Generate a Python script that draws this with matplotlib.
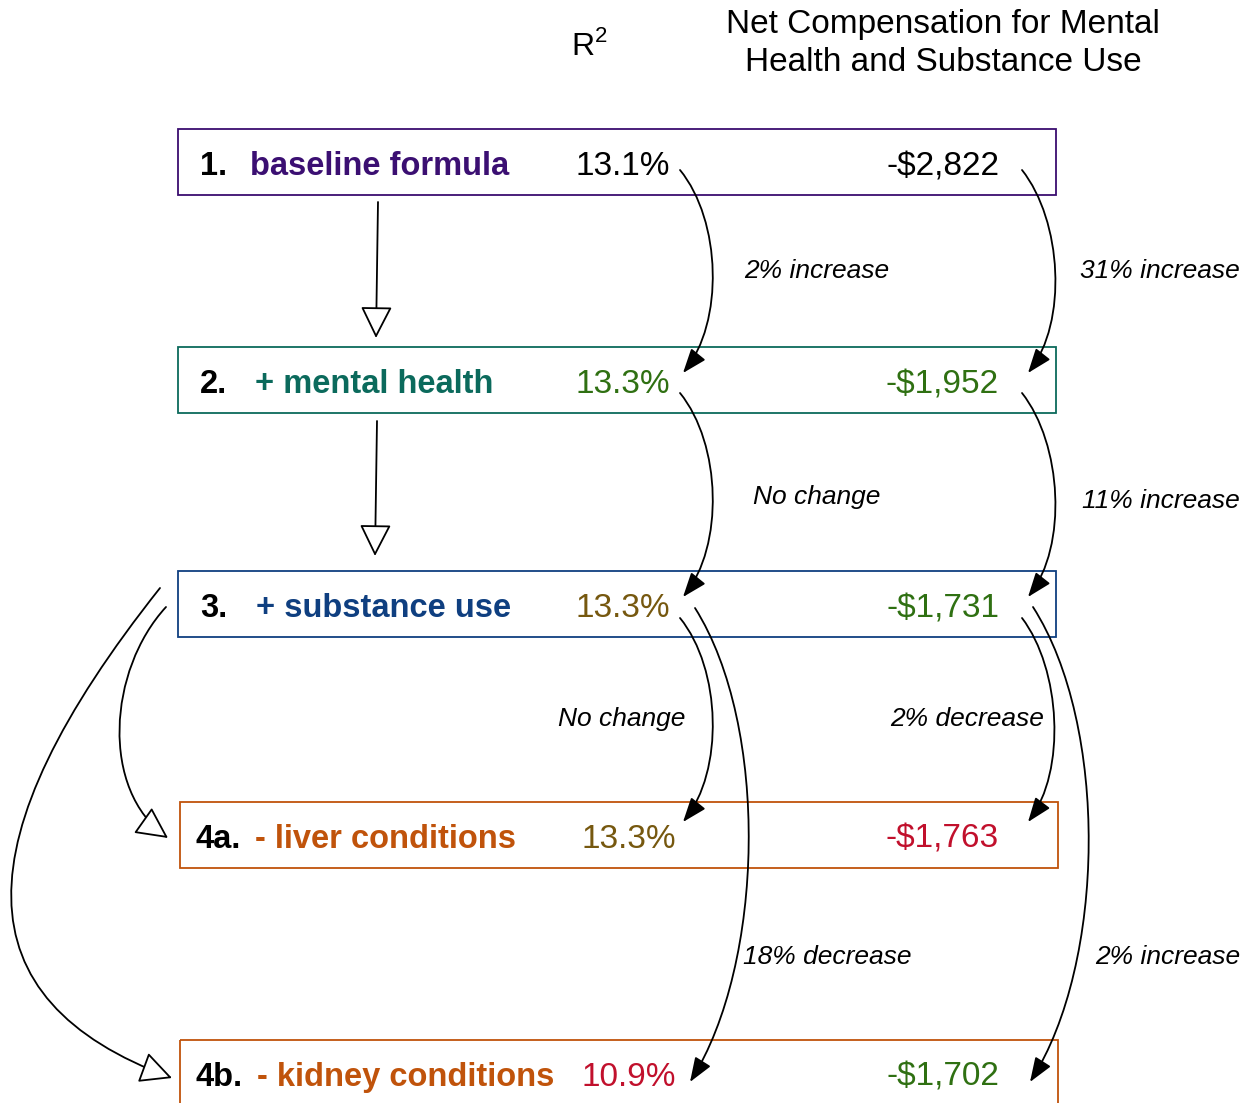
import matplotlib.pyplot as plt
from matplotlib.patches import Rectangle, FancyArrowPatch
from matplotlib.path import Path

# data
step_nums = ['1.', '2.', '3.', '4a.', '4b.']
step_labels = ['baseline formula', '+ mental health', '+ substance use',
               '- liver conditions', '- kidney conditions']
r2_values = ['13.1%', '13.3%', '13.3%', '13.3%', '10.9%']
net_values = ['-$2,822', '-$1,952', '-$1,731', '-$1,763', '-$1,702']
r2_changes = ['2% increase', 'No change', 'No change', '18% decrease']
net_changes = ['31% increase', '11% increase', '2% decrease', '2% increase']

box_colors = ['#3a0d6f', '#0c6a5c', '#0f3f80', '#c0530b', '#c0530b']
label_colors = ['#3b0f72', '#0b6a5c', '#0f3f80', '#c0530b', '#c0530b']
r2_colors = ['black', '#2f7012', '#76580f', '#76580f', '#c1102c']
net_colors = ['black', '#2f7012', '#2f7012', '#c1102c', '#2f7012']

FONT = 'Liberation Sans'

fig = plt.figure(figsize=(12.57, 11.03), dpi=100)
ax = fig.add_axes([0, 0, 1, 1])
ax.set_xlim(0, 1257)
ax.set_ylim(1103, 0)
ax.axis('off')

# layout in pixels
ycent = [162, 380, 604, 835, 1073]
xleft = [178, 178, 178, 180, 180]
box_w, box_h = 878, 66
num_x = [200, 200, 200, 196, 196]
lab_x = [250, 255, 256, 255, 257]
r2_x = [670, 670, 670, 676, 676]
net_x = 999

for i in range(5):
    ax.add_patch(Rectangle((xleft[i], ycent[i] - box_h / 2), box_w, box_h,
                           fill=False, ec=box_colors[i], lw=1.3))
    yb = ycent[i] + 13
    ax.text(num_x[i], yb, step_nums[i], fontsize=23.5, fontweight='bold',
            family=FONT, va='baseline', ha='left', color='black')
    ax.text(lab_x[i], yb, step_labels[i], fontsize=23.5, fontweight='bold',
            family=FONT, va='baseline', ha='left', color=label_colors[i])
    ax.text(r2_x[i], yb, r2_values[i], fontsize=24, family=FONT,
            va='baseline', ha='right', color=r2_colors[i])
    ax.text(net_x, yb, net_values[i], fontsize=24, family=FONT,
            va='baseline', ha='right', color=net_colors[i])

# headers
ax.text(571, 55, 'R', fontsize=23, family=FONT, va='baseline', ha='left')
ax.text(595, 42, '2', fontsize=16, family=FONT, va='baseline', ha='left')
ax.text(943, 33, 'Net Compensation for Mental', fontsize=24, family=FONT,
        va='baseline', ha='center')
ax.text(943, 71, 'Health and Substance Use', fontsize=24, family=FONT,
        va='baseline', ha='center')


def cubic_arrow(p0, p1, p2, p3, hollow=False):
    path = Path([p0, p1, p2, p3],
                [Path.MOVETO, Path.CURVE4, Path.CURVE4, Path.CURVE4])
    if hollow:
        style = '-|>,head_length=1.0,head_width=0.5'
        fc = 'white'
    else:
        style = '-|>,head_length=0.75,head_width=0.28'
        fc = 'black'
    ax.add_patch(FancyArrowPatch(path=path, arrowstyle=style, mutation_scale=20,
                                 fc=fc, ec='black', lw=1.3,
                                 shrinkA=0, shrinkB=0))


def bulge_arrow(x0, y0, x1, y1, off):
    k = off / 0.75
    L = y1 - y0
    cubic_arrow((x0, y0), (x0 + k, y0 + 0.25 * L),
                (x1 + k, y1 - 0.25 * L), (x1, y1))


# step arrows (hollow heads)
ax.add_patch(FancyArrowPatch((378, 202), (376, 338),
                             arrowstyle='-|>,head_length=1.0,head_width=0.5',
                             mutation_scale=20, fc='white', ec='black',
                             lw=1.3, shrinkA=0, shrinkB=0))
ax.add_patch(FancyArrowPatch((377, 421), (375, 556),
                             arrowstyle='-|>,head_length=1.0,head_width=0.5',
                             mutation_scale=20, fc='white', ec='black',
                             lw=1.3, shrinkA=0, shrinkB=0))
cubic_arrow((166, 607), (108, 670), (100, 790), (168, 838), hollow=True)
cubic_arrow((160, 588), (-40, 840), (-40, 1000), (172, 1078), hollow=True)

# change arrows
bulge_arrow(680, 170, 683, 373, 31)
bulge_arrow(680, 393, 683, 597, 31)
bulge_arrow(680, 618, 683, 822, 31)
bulge_arrow(695, 608, 690, 1082, 56)
bulge_arrow(1022, 170, 1028, 373, 30)
bulge_arrow(1022, 393, 1028, 597, 30)
bulge_arrow(1022, 618, 1028, 822, 29)
bulge_arrow(1033, 607, 1030, 1082, 57)

# change labels
r2_lab_pos = [(817, 271), (817, 497), (622, 719), (827, 957)]
net_lab_pos = [(1160, 271), (1161, 501), (967, 719), (1168, 957)]
for (x, y), s in zip(r2_lab_pos, r2_changes):
    ax.text(x, y, s, fontsize=19, style='italic', family=FONT,
            ha='center', va='center')
for (x, y), s in zip(net_lab_pos, net_changes):
    ax.text(x, y, s, fontsize=19, style='italic', family=FONT,
            ha='center', va='center')

fig.savefig('out.png', dpi=100)
